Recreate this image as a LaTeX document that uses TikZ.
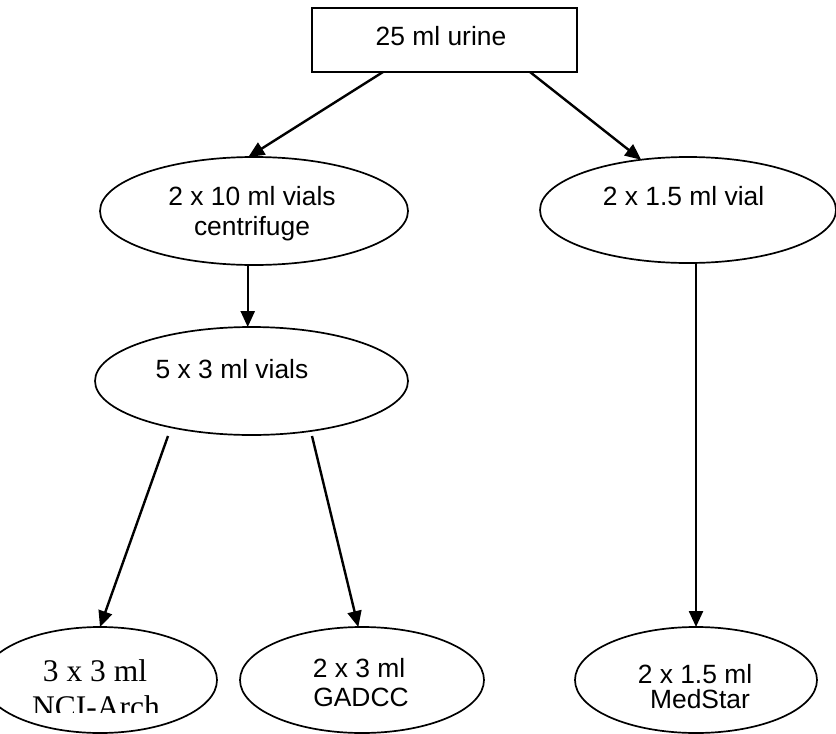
\documentclass[tikz,border=0pt]{standalone}
\usepackage{fontspec}
\setmainfont{Liberation Sans}
\newfontfamily\serifface{Liberation Serif}
\usetikzlibrary{shapes.geometric,arrows.meta}
\begin{document}
\begin{tikzpicture}[x=1pt,y=-1pt,
  vial/.style={draw,ellipse,line width=1.7pt,inner sep=0pt,outer sep=0pt},
  flow/.style={line width=2.4pt,-{Triangle[length=16pt,width=14pt]}},
  lbl/.style={anchor=base,inner sep=0pt,font=\fontsize{26.4}{30}\selectfont},
  serifl/.style={anchor=base,inner sep=0pt,font=\serifface\fontsize{31.5}{36}\selectfont}]
\useasboundingbox (0,0) rectangle (836,734);
\clip (0,0) rectangle (836,734);

% source box
\node[draw,line width=2.3pt,minimum width=265pt,minimum height=64pt,
      inner sep=0pt,outer sep=0pt] (src) at (444.5,40) {};
\node[lbl] (srct) at (441,45) {25 ml urine};

% first split
\node[vial,minimum width=308pt,minimum height=108pt] (cent) at (254,211) {};
\node[lbl] (centa) at (252,205.5) {2 x 10 ml vials};
\node[lbl] (centb) at (252,235) {centrifuge};

\node[vial,minimum width=296pt,minimum height=106pt] (small) at (688,210) {};
\node[lbl] (smallt) at (683.5,205) {2 x 1.5 ml vial};

% aliquots
\node[vial,minimum width=313pt,minimum height=108pt] (ali) at (251.5,381) {};
\node[lbl] (alit) at (232,378) {5 x 3 ml vials};

% destinations
\node[vial,minimum width=234pt,minimum height=106pt] (nci) at (100,680) {};
\begin{scope}
  \clip (-20,640) rectangle (240,712);
  \node[serifl] (ncia) at (95,681.5) {3 x 3 ml};
  \node[serifl] (ncib) at (96,717) {NCI-Arch};
\end{scope}

\node[vial,minimum width=244pt,minimum height=106pt] (gad) at (362,680) {};
\node[lbl] (gada) at (359,677.5) {2 x 3 ml};
\node[lbl] (gadb) at (361,706) {GADCC};

\node[vial,minimum width=242pt,minimum height=106pt] (med) at (696,680) {};
\node[lbl] (meda) at (695,683) {2 x 1.5 ml};
\node[lbl] (medb) at (700,708.5) {MedStar};

% connectors
\path (src.south west) ++(71,0) coordinate (srcl);
\path (src.south east) ++(-47,0) coordinate (srcr);
\coordinate (alil) at (168,436);
\coordinate (alir) at (312,436);

\draw[flow] (srcl) -- (cent.96);
\draw[flow] (srcr) -- (small.133);
\draw[flow] (ali.94 |- cent.south) -- (ali.94);
\draw[flow] (alil) -- (nci.north);
\draw[flow] (alir) -- (gad.94);
\draw[flow] (med.north |- small.south) -- (med.north);
\end{tikzpicture}
\end{document}
